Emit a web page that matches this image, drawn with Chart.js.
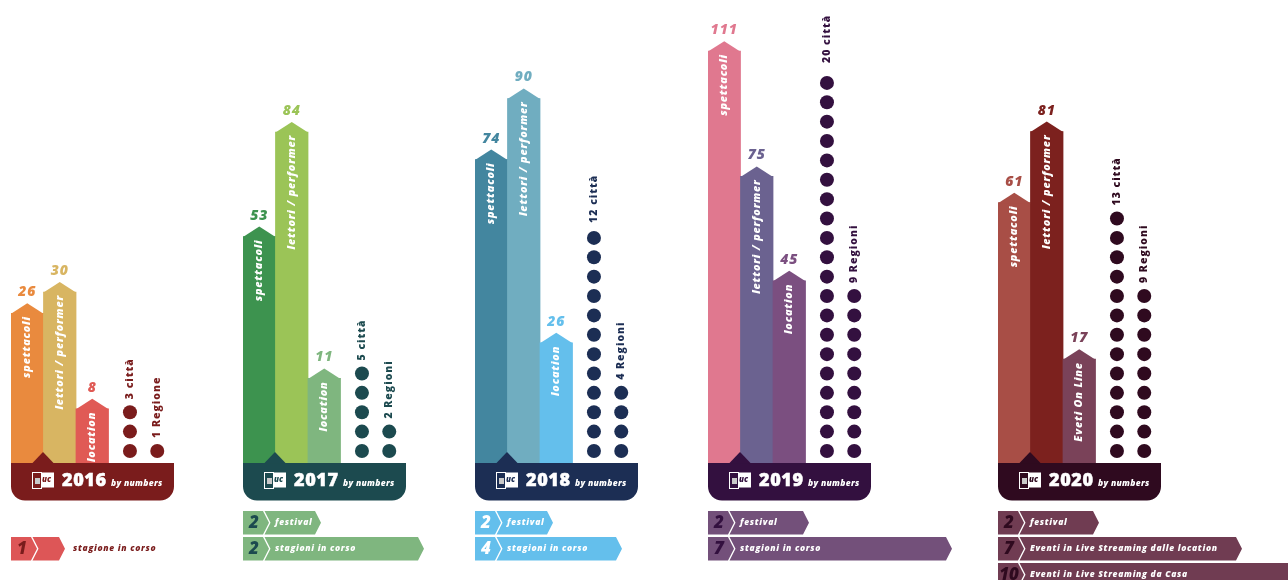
<!DOCTYPE html>
<html>
<head>
<meta charset="utf-8">
<style>
  html, body { margin: 0; background: #fff; width: 1288px; height: 580px; overflow: hidden; }
  canvas { position: absolute; top: 0; }
</style>
<script src="https://cdn.jsdelivr.net/npm/chart.js@4"></script>
</head>
<body>
<script>
// Season figures, one entry per year
const years = ['2016', '2017', '2018', '2019', '2020'];
const spettacoli = [26, 53, 74, 111, 61];
const lettori = [30, 84, 90, 75, 81];
const locations = [8, 11, 26, 45, 17];
const citta = [3, 5, 12, 20, 13];
const regioni = [1, 2, 4, 9, 9];

const barNames = [
  ['spettacoli', 'lettori / performer', 'location'],
  ['spettacoli', 'lettori / performer', 'location'],
  ['spettacoli', 'lettori / performer', 'location'],
  ['spettacoli', 'lettori / performer', 'location'],
  ['spettacoli', 'lettori / performer', 'Eveti On Line']
];
const cittaNames = ['3 città', '5 città', '12 città', '20 città', '13 città'];
const regioniNames = ['1 Regione', '2 Regioni', '4 Regioni', '9 Regioni', '9 Regioni'];

// Ribbon rows under each year
const rowCounts = [[1], [2, 2], [2, 4], [2, 7], [2, 7, 10]];
const rowNames = [
  ['stagione in corso'],
  ['festival', 'stagioni in corso'],
  ['festival', 'stagioni in corso'],
  ['festival', 'stagioni in corso'],
  ['festival', 'Eventi in Live Streaming dalle location', 'Eventi in Live Streaming da Casa']
];

// Slots along each panel's x axis
const barSlots = [1, 2, 3];
const cittaSlot = 4.16;
const regioniSlot = 5;

// Layout and palette
const panelLeft = [11, 243, 475, 708, 998];
const panelWidth = 163;
const baseY = 463;
const canvasHeight = 580;
const yMin = [-2.2, -14.07, -5.48, -7.36, -12.2];
const yMax = [85, 123.1, 115.8, 125.7, 118];
const cittaGap = [13, 13, 15, 20, 13];
const rowEnds = [[65], [321, 424], [553, 622], [809, 952], [1099, 1242, 1320]];
const rowTops = [[537], [511, 537], [511, 537], [511, 537], [511, 537, 563]];
const barColors = [
  ['#e98a3e', '#d8b562', '#e05a55'],
  ['#3d934f', '#9bc457', '#7fb67f'],
  ['#43869f', '#70adc0', '#64bfec'],
  ['#e0788f', '#6b6290', '#7b4f80'],
  ['#a84e46', '#7c211e', '#7a4259']
];
const bandColors = ['#7a1c1c', '#1c4a4f', '#1c2e54', '#33103f', '#2f0a1f'];
const rowColors = ['#dd5657', '#7fb67f', '#64bfec', '#73507a', '#703c52'];
const rowDigitColors = ['#7a1c1c', '#1c4a4f', '#ffffff', '#33103f', '#2f0a1f'];

const HEAVY = '"Open Sans", "Inter", sans-serif';

function apex(bar) { return bar.y - 10; }

// Pentagon tips, value labels and rotated captions on the bars and dot columns
const markDecor = {
  id: 'markDecor',
  afterDatasetsDraw(chart, args, opts) {
    const ctx = chart.ctx;
    const i = opts.panel;
    const bars = chart.getDatasetMeta(0).data;
    const values = chart.data.datasets[0].data;
    ctx.save();
    ctx.textBaseline = 'middle';
    bars.forEach((bar, k) => {
      const half = bar.width / 2;
      ctx.fillStyle = barColors[i][k];
      ctx.beginPath();
      ctx.moveTo(bar.x - half, bar.y + 0.5);
      ctx.lineTo(bar.x, apex(bar));
      ctx.lineTo(bar.x + half, bar.y + 0.5);
      ctx.closePath();
      ctx.fill();

      ctx.font = 'italic 800 14px ' + HEAVY;
      ctx.letterSpacing = '1px';
      ctx.textAlign = 'center';
      ctx.fillText(String(values[k].y), bar.x, apex(bar) - 11);

      ctx.save();
      ctx.translate(bar.x, apex(bar) + 13);
      ctx.rotate(-Math.PI / 2);
      ctx.font = 'italic 800 10.8px ' + HEAVY;
      ctx.letterSpacing = '0.8px';
      ctx.textAlign = 'right';
      ctx.fillStyle = '#fff';
      ctx.fillText(barNames[i][k], 0, 0);
      ctx.restore();
    });

    [[1, cittaNames[i], cittaGap[i]], [2, regioniNames[i], 13]].forEach(([ds, caption, gap]) => {
      const pts = chart.getDatasetMeta(ds).data;
      const top = pts[pts.length - 1];
      ctx.save();
      ctx.translate(top.x, top.y - gap);
      ctx.rotate(-Math.PI / 2);
      ctx.font = '800 10.5px ' + HEAVY;
      ctx.letterSpacing = '1px';
      ctx.textAlign = 'left';
      ctx.fillStyle = bandColors[i];
      ctx.fillText(caption, 0, 0);
      ctx.restore();
    });
    ctx.restore();
  }
};

// Title band with its notch and the small open-book logo
const yearBand = {
  id: 'yearBand',
  afterDatasetsDraw(chart, args, opts) {
    const ctx = chart.ctx;
    const i = opts.panel;
    const a = chart.chartArea;
    ctx.save();
    ctx.fillStyle = bandColors[i];
    ctx.beginPath();
    ctx.roundRect(a.left, baseY, panelWidth, 37.5, [0, 0, 14, 14]);
    ctx.fill();
    ctx.beginPath();
    ctx.moveTo(a.left + 21, baseY + 0.5);
    ctx.lineTo(a.left + 32, baseY - 11);
    ctx.lineTo(a.left + 43, baseY + 0.5);
    ctx.closePath();
    ctx.fill();

    // logo
    const lx = a.left + 21, ly = baseY + 9;
    ctx.strokeStyle = '#fff';
    ctx.lineWidth = 1;
    ctx.strokeRect(lx + 0.5, ly + 0.5, 9, 16);
    ctx.fillStyle = '#fff';
    ctx.fillRect(lx + 9, ly + 0.5, 13, 15);
    ctx.fillStyle = '#c9c9c9';
    ctx.fillRect(lx + 3, ly + 6, 5, 6);
    ctx.fillStyle = bandColors[i];
    ctx.font = 'italic 800 8px ' + HEAVY;
    ctx.textAlign = 'left';
    ctx.textBaseline = 'middle';
    ctx.fillText('uc', lx + 10, ly + 8);

    ctx.fillStyle = '#fff';
    ctx.textBaseline = 'alphabetic';
    ctx.font = '800 18px ' + HEAVY;
    ctx.letterSpacing = '0.6px';
    ctx.strokeStyle = '#fff';
    ctx.lineWidth = 0.5;
    ctx.strokeText(years[i], a.left + 51, baseY + 23);
    ctx.fillText(years[i], a.left + 51, baseY + 23);
    ctx.font = 'italic 800 8.5px ' + HEAVY;
    ctx.letterSpacing = '0.3px';
    ctx.fillText('by numbers', a.left + 100, baseY + 23);
    ctx.restore();
  }
};

// Ribbon rows below the band
const ribbonRows = {
  id: 'ribbonRows',
  afterDraw(chart, args, opts) {
    const ctx = chart.ctx;
    const i = opts.panel;
    const left = chart.chartArea.left;
    const h = 23.5, boxW = 20, gap = 1.5, tip = 6;
    ctx.save();
    rowCounts[i].forEach((count, r) => {
      const y = rowTops[i][r];
      const end = rowEnds[i][r] - panelLeft[i] + left;
      const mid = y + h / 2;
      ctx.fillStyle = rowColors[i];
      ctx.beginPath();
      ctx.moveTo(left, y);
      ctx.lineTo(left + boxW, y);
      ctx.lineTo(left + boxW + tip, mid);
      ctx.lineTo(left + boxW, y + h);
      ctx.lineTo(left, y + h);
      ctx.closePath();
      ctx.fill();
      ctx.beginPath();
      ctx.moveTo(left + boxW + gap, y);
      ctx.lineTo(end - tip, y);
      ctx.lineTo(end, mid);
      ctx.lineTo(end - tip, y + h);
      ctx.lineTo(left + boxW + gap, y + h);
      ctx.lineTo(left + boxW + gap + tip, mid);
      ctx.closePath();
      ctx.fill();

      ctx.textBaseline = 'middle';
      ctx.textAlign = 'center';
      ctx.fillStyle = rowDigitColors[i];
      ctx.font = 'italic 800 17px ' + HEAVY;
      ctx.fillText(String(count), left + 11, mid + 0.5);

      ctx.textAlign = 'left';
      ctx.font = 'italic 800 8.5px ' + HEAVY;
      ctx.letterSpacing = '0.7px';
      const outside = rowNames[i].length === 1;
      ctx.fillStyle = outside ? bandColors[i] : '#fff';
      ctx.fillText(rowNames[i][r], left + (outside ? 62 : 32), mid);
      ctx.letterSpacing = '0px';
    });
    ctx.restore();
  }
};

// One dot per unit, stacked upward in its own column
function dotColumn(count, slot, color) {
  const data = [];
  for (let n = 1; n <= count; n++) data.push({ x: slot, y: n });
  return {
    type: 'scatter', data, yAxisID: 'yDots',
    pointRadius: 7, pointHoverRadius: 7, showLine: false,
    backgroundColor: color, borderWidth: 0
  };
}

years.forEach((year, i) => {
  const canvas = document.createElement('canvas');
  const width = Math.min(1288 - panelLeft[i], 330);
  canvas.width = width;
  canvas.height = canvasHeight;
  canvas.style.left = panelLeft[i] + 'px';
  document.body.appendChild(canvas);

  const barValues = [spettacoli[i], lettori[i], locations[i]];
  new Chart(canvas, {
    data: {
      datasets: [
        {
          type: 'bar',
          data: barSlots.map((slot, k) => ({ x: slot, y: barValues[k] })),
          backgroundColor: barColors[i],
          base: yMin[i],
          barThickness: 32.6,
          borderWidth: 0,
          yAxisID: 'y'
        },
        dotColumn(citta[i], cittaSlot, bandColors[i]),
        dotColumn(regioni[i], regioniSlot, bandColors[i])
      ]
    },
    options: {
      responsive: false,
      animation: false,
      events: [],
      layout: { autoPadding: false, padding: { left: 0, top: 0, right: width - panelWidth, bottom: canvasHeight - baseY } },
      plugins: {
        legend: { display: false },
        tooltip: { enabled: false },
        markDecor: { panel: i },
        yearBand: { panel: i },
        ribbonRows: { panel: i }
      },
      scales: {
        x: { type: 'linear', display: false, offset: false, min: 0.5, max: 5.515 },
        y: { type: 'linear', display: false, min: yMin[i], max: yMax[i] },
        yDots: { type: 'linear', display: false, min: 0.38, max: 24.28 }
      }
    },
    plugins: [markDecor, yearBand, ribbonRows]
  });
});
</script>
</body>
</html>
